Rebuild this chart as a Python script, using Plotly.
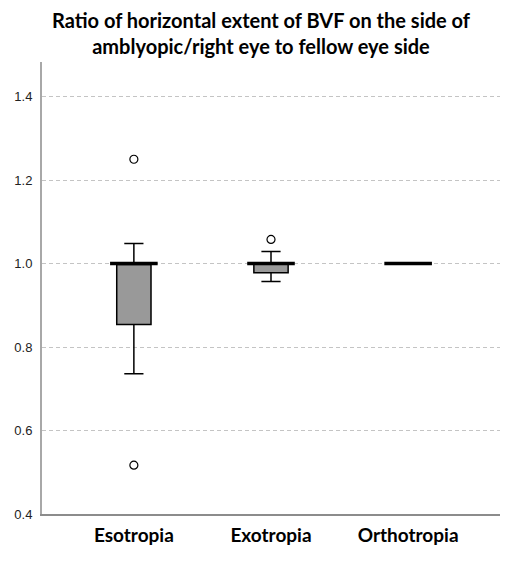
import plotly.graph_objects as go

groups = ["Esotropia", "Exotropia", "Orthotropia"]
q1 = [0.854, 0.978, 1.0]
median = [1.0, 1.0, 1.0]
q3 = [1.0, 1.002, 1.0]
low_whisker = [0.736, 0.957, 1.0]
high_whisker = [1.048, 1.029, 1.0]
outlier_group = ["Esotropia", "Esotropia", "Exotropia"]
outlier_value = [1.25, 0.517, 1.058]
y_ticks = [0.4, 0.6, 0.8, 1.0, 1.2, 1.4]

fig = go.Figure()
fig.add_trace(go.Box(
    x=groups, q1=q1, median=median, q3=q3,
    lowerfence=low_whisker, upperfence=high_whisker,
    fillcolor="#999999", line=dict(color="black", width=1.5),
    width=0.25, whiskerwidth=0.56, boxpoints=False, showlegend=False,
    hoverinfo="skip",
))
# thick median bars
fig.add_trace(go.Scatter(
    x=groups, y=median, mode="markers",
    marker=dict(symbol="line-ew", size=34, line=dict(color="black", width=3.5)),
    showlegend=False, hoverinfo="skip",
))
fig.add_trace(go.Scatter(
    x=outlier_group, y=outlier_value, mode="markers",
    marker=dict(symbol="circle-open", size=8, color="black", line=dict(width=1.2)),
    showlegend=False,
))

fig.update_layout(
    width=522, height=564,
    margin=dict(l=42, r=22, t=62, b=50),
    plot_bgcolor="white", paper_bgcolor="white",
    title=dict(
        text="Ratio of horizontal extent of BVF on the side of<br>amblyopic/right eye to fellow eye side",
        x=0.5, xanchor="center", yref="container", y=1 - 28 / 564, yanchor="top",
        font=dict(family="Lato", size=20, color="black", weight="bold"),
    ),
    xaxis=dict(
        range=[-0.67, 2.67], showgrid=False, showline=True,
        linecolor="#8c8c8c", linewidth=1.5, ticks="", ticklabelstandoff=3,
        tickfont=dict(family="Lato", size=19, color="black", weight="bold"),
    ),
    yaxis=dict(
        range=[0.4, 1.483], tickvals=y_ticks, tickformat=".1f",
        showgrid=True, gridcolor="#c4c4c4", griddash="4px,3px", gridwidth=1,
        showline=True, linecolor="#a8a8a8", linewidth=2, ticks="",
        zeroline=False, ticklabelstandoff=5,
        tickfont=dict(family="Liberation Sans", size=13, color="#222222"),
    ),
)

fig.write_html("out.html", config={"displayModeBar": False},
               post_script="document.body.style.margin='0';")
